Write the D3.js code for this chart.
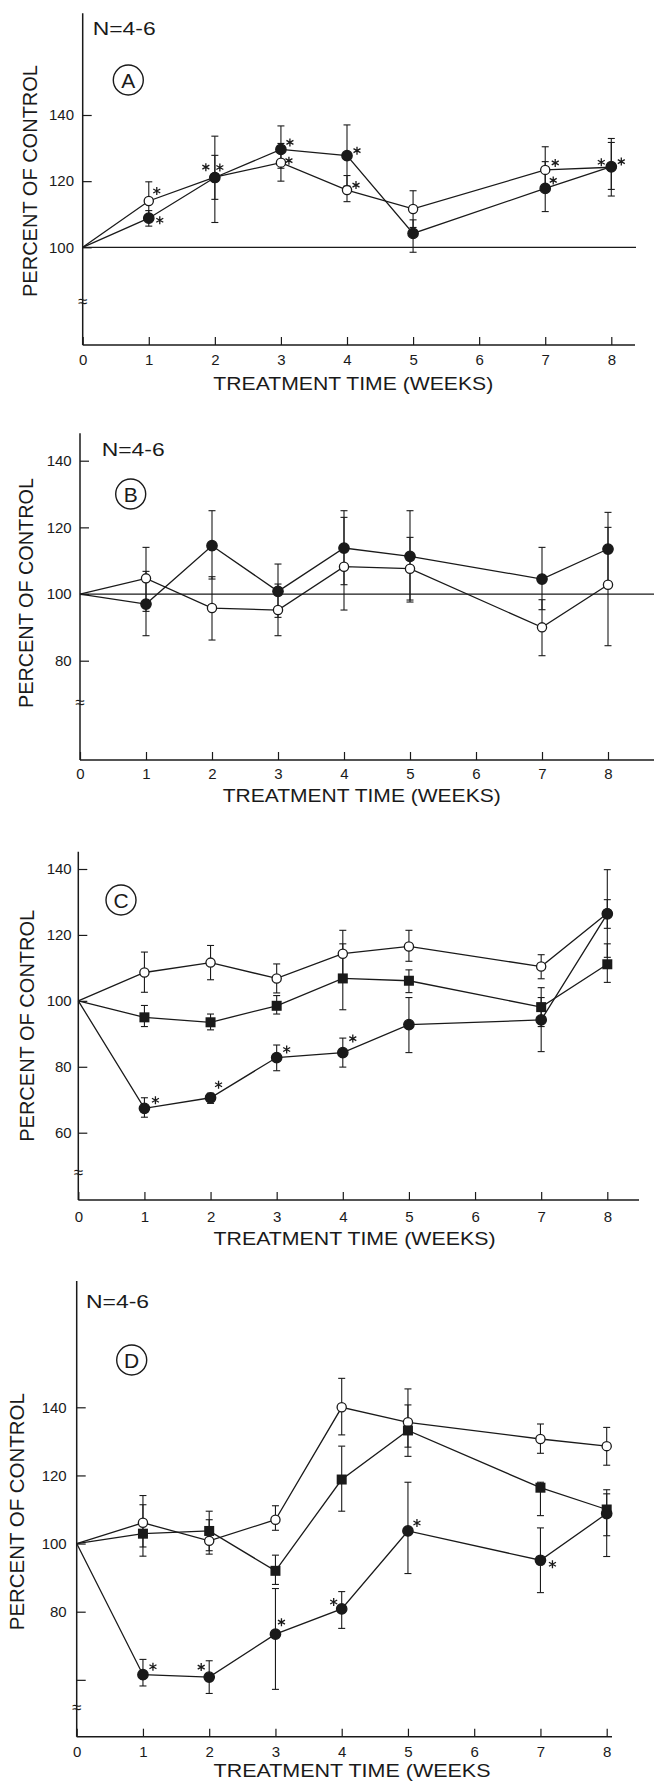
<!DOCTYPE html>
<html>
<head>
<meta charset="utf-8">
<script src="https://cdn.jsdelivr.net/npm/d3@7"></script>
<style>
  body { margin: 0; background: #fff; }
  svg { display: block; }
</style>
</head>
<body>
<div id="chart"></div>
<script>
// weeks on the x axis (6 has no data)
var weeks = [0, 1, 2, 3, 4, 5, 7, 8];
var weekTicks = [0, 1, 2, 3, 4, 5, 6, 7, 8];

// panel A
var aOpen     = [100, 114.0, 121.2, 125.6, 117.3, 111.6, 123.4, 124.2];
var aOpenHi   = [null, 119.8, 127.8, 131.4, 121.7, 117.1, 130.4, 131.7];
var aOpenLo   = [null, 108.2, 114.5, 120.0, 113.8, 106.0, 117.0, 117.5];
var aFilled   = [100, 108.8, 121.1, 129.6, 127.7, 104.2, 117.8, 124.4];
var aFilledHi = [null, 111.1, 133.6, 136.7, 137.0, 108.3, 125.9, 132.9];
var aFilledLo = [null, 106.4, 107.5, 123.9, 118.5, 98.5, 110.8, 115.5];
var aOpenSig   = [1, 2, 3, 4, 7, 8];
var aFilledSig = [1, 2, 3, 4, 7, 8];

// panel B
var bOpen     = [100, 104.7, 95.8, 95.2, 108.2, 107.6, 90.0, 102.8];
var bOpenHi   = [null, 114.0, 105.2, 103.0, 123.0, 117.0, 98.3, 120.0];
var bOpenLo   = [null, 94.8, 86.2, 87.5, 95.2, 98.2, 81.5, 84.5];
var bFilled   = [100, 97.0, 114.5, 100.8, 113.8, 111.3, 104.5, 113.5];
var bFilledHi = [null, 106.8, 125.0, 109.0, 125.0, 125.0, 114.0, 124.5];
var bFilledLo = [null, 87.5, 104.5, 93.0, 102.8, 97.6, 95.3, 102.5];

// panel C
var cOpen     = [100, 108.6, 111.6, 106.8, 114.3, 116.5, 110.4, 126.6];
var cOpenHi   = [null, 114.8, 116.8, 111.2, 121.4, 121.4, 114.0, 139.8];
var cOpenLo   = [null, 102.6, 106.4, 102.4, 107.3, 112.0, 106.7, 113.2];
var cSquare   = [100, 95.0, 93.5, 98.5, 106.8, 106.1, 98.1, 111.1];
var cSquareHi = [null, 98.6, 96.0, 101.6, 117.3, 109.4, 104.0, 117.3];
var cSquareLo = [null, 92.2, 91.2, 96.0, 97.3, 102.5, 92.2, 105.6];
var cFilled   = [100, 67.4, 70.6, 82.8, 84.3, 92.8, 94.2, 126.4];
var cFilledHi = [null, 70.6, 72.0, 86.6, 88.7, 101.0, 101.0, 130.7];
var cFilledLo = [null, 64.7, 68.9, 78.8, 79.9, 84.3, 84.6, 122.0];
var cFilledSig = [1, 2, 3, 4];

// panel D
var dOpen     = [100, 106.1, 100.8, 107.0, 140.0, 135.6, 130.7, 128.6];
var dOpenHi   = [null, 114.1, 107.0, 111.1, 148.5, 145.4, 135.1, 134.1];
var dOpenLo   = [null, 99.0, 96.9, 103.9, 131.9, 128.3, 126.5, 123.0];
var dSquare   = [100, 102.9, 103.7, 92.0, 118.8, 133.2, 116.4, 110.0];
var dSquareHi = [null, 111.4, 109.5, 96.6, 128.6, 140.7, 118.0, 114.6];
var dSquareLo = [null, 96.3, 97.9, 88.0, 109.5, 125.6, 108.2, 102.3];
var dFilled   = [100, 61.5, 60.8, 73.4, 80.8, 103.7, 95.1, 108.8];
var dFilledHi = [null, 66.0, 65.6, 86.8, 85.9, 118.0, 104.6, 115.8];
var dFilledLo = [null, 58.2, 56.0, 57.2, 75.1, 91.2, 85.6, 96.2];
var dFilledSig = [1, 2, 3, 4, 5, 7];

// y tick labels
var yTicksA = [100, 120, 140];
var yTicksB = [80, 100, 120, 140];
var yTicksC = [60, 80, 100, 120, 140];
var yTicksD = [60, 80, 100, 120, 140];
var yLabelsD = [80, 100, 120, 140];

var FONT = "'Liberation Sans', Arial, sans-serif";
var INK = "#1a1a1a";

// where each asterisk sits next to its point (px)
var starPos = {
  "A-open-1": [8, -10], "A-open-2": [-9, -10], "A-open-3": [8, -2], "A-open-4": [9, -5],
  "A-open-7": [10, -7], "A-open-8": [-10, -5],
  "A-filled-1": [11, 2], "A-filled-2": [5, -10], "A-filled-3": [9, -7], "A-filled-4": [10, -5],
  "A-filled-7": [8, -8], "A-filled-8": [10, -5],
  "C-filled-1": [11, -8], "C-filled-2": [8, -13], "C-filled-3": [10, -8], "C-filled-4": [10, -14],
  "D-filled-1": [10, -8], "D-filled-2": [-8, -10], "D-filled-3": [6, -12], "D-filled-4": [-8, -7],
  "D-filled-5": [9, -8], "D-filled-7": [12, 4]
};

var panels = [
  { id: "A", xr: [82.7, 611.3], yd: [100, 140], yr: [247.3, 115], top: 13.3, axisY: 345, right: 635,
    ref: 636, brk: 301.7, yTicks: yTicksA, yLabels: yTicksA, yPad: 8.7, xPad: 9.7,
    xTitle: "TREATMENT TIME (WEEKS)", xTitleX: 353.3, xTitleY: 383.3, xTitleLen: 280,
    yTitleX: 30, yTitleY: 181, yTitleLen: 232, nX: 92.7, nY: 28.3, cX: 128.3, cY: 80,
    series: [
      { name: "open", v: aOpen, hi: aOpenHi, lo: aOpenLo, sig: aOpenSig },
      { name: "filled", v: aFilled, hi: aFilledHi, lo: aFilledLo, sig: aFilledSig }
    ] },
  { id: "B", xr: [80, 608], yd: [80, 140], yr: [660.7, 460.7], top: 433.3, axisY: 760, right: 654,
    ref: 654, brk: 703.3, yTicks: yTicksB, yLabels: yTicksB, yPad: 8.3, xPad: 8.7,
    xTitle: "TREATMENT TIME (WEEKS)", xTitleX: 361.7, xTitleY: 795, xTitleLen: 278,
    yTitleX: 26, yTitleY: 593, yTitleLen: 230, nX: 101.7, nY: 449.3, cX: 130.7, cY: 494,
    series: [
      { name: "open", v: bOpen, hi: bOpenHi, lo: bOpenLo, sig: [] },
      { name: "filled", v: bFilled, hi: bFilledHi, lo: bFilledLo, sig: [] }
    ] },
  { id: "C", xr: [78.3, 607.3], yd: [60, 140], yr: [1132.7, 869], top: 851.7, axisY: 1200, right: 639,
    ref: null, brk: 1172.7, yTicks: yTicksC, yLabels: yTicksC, yPad: 6.6, xPad: 11.4,
    xTitle: "TREATMENT TIME (WEEKS)", xTitleX: 354.5, xTitleY: 1238.3, xTitleLen: 282,
    yTitleX: 26.7, yTitleY: 1025.8, yTitleLen: 232, nX: null, nY: null, cX: 121, cY: 900,
    series: [
      { name: "open", v: cOpen, hi: cOpenHi, lo: cOpenLo, sig: [] },
      { name: "square", v: cSquare, hi: cSquareHi, lo: cSquareLo, sig: [] },
      { name: "filled", v: cFilled, hi: cFilledHi, lo: cFilledLo, sig: cFilledSig }
    ] },
  { id: "D", xr: [76.7, 606.7], yd: [80, 140], yr: [1611.7, 1407.3], top: 1281, axisY: 1736.7, right: 612,
    ref: null, brk: 1708.3, yTicks: yTicksD, yLabels: yLabelsD, yPad: 10, xPad: 9.7,
    xTitle: "TREATMENT TIME (WEEKS", xTitleX: 352, xTitleY: 1770, xTitleLen: 277,
    yTitleX: 16.7, yTitleY: 1511.7, yTitleLen: 237, nX: 86, nY: 1301.7, cX: 131.7, cY: 1360,
    series: [
      { name: "open", v: dOpen, hi: dOpenHi, lo: dOpenLo, sig: [] },
      { name: "square", v: dSquare, hi: dSquareHi, lo: dSquareLo, sig: [] },
      { name: "filled", v: dFilled, hi: dFilledHi, lo: dFilledLo, sig: dFilledSig }
    ] }
];

var svg = d3.select("#chart").append("svg")
  .attr("width", 654)
  .attr("height", 1781)
  .attr("font-family", FONT);

svg.append("rect").attr("width", 654).attr("height", 1781).attr("fill", "#fff");

panels.forEach(drawPanel);

function drawPanel(p) {
  var g = svg.append("g").attr("class", "panel-" + p.id);
  var x = d3.scaleLinear().domain([0, 8]).range(p.xr);
  var y = d3.scaleLinear().domain(p.yd).range(p.yr);
  var x0 = x(0);

  // frame lines
  g.append("line").attr("x1", x0).attr("x2", x0).attr("y1", p.top).attr("y2", p.axisY)
    .attr("stroke", INK).attr("stroke-width", 1.5);
  g.append("line").attr("x1", x0).attr("x2", p.right).attr("y1", p.axisY).attr("y2", p.axisY)
    .attr("stroke", INK).attr("stroke-width", 1.5);

  // 100 % reference line
  if (p.ref) {
    g.append("line").attr("x1", x0).attr("x2", p.ref).attr("y1", y(100)).attr("y2", y(100))
      .attr("stroke", INK).attr("stroke-width", 1.3);
  }

  // y ticks (inward)
  var ya = g.append("g")
    .attr("transform", "translate(" + x0 + ",0)")
    .call(d3.axisLeft(y).tickValues(p.yTicks).tickSize(-9).tickPadding(p.yPad)
      .tickFormat(function (d) { return p.yLabels.indexOf(d) >= 0 ? d : ""; }));
  ya.select(".domain").remove();
  ya.attr("font-size", 15).attr("font-family", FONT).attr("color", INK);
  ya.selectAll("line").attr("stroke-width", 1.2);

  // x ticks (inward)
  var xa = g.append("g")
    .attr("transform", "translate(0," + p.axisY + ")")
    .call(d3.axisBottom(x).tickValues(weekTicks).tickSize(-8).tickPadding(p.xPad));
  xa.select(".domain").remove();
  xa.attr("font-size", 15).attr("font-family", FONT).attr("color", INK);
  xa.selectAll("line").attr("stroke-width", 1.2);

  // axis break
  g.append("text").attr("x", x0).attr("y", p.brk + 5)
    .attr("text-anchor", "middle").attr("font-size", 17).attr("fill", INK).text("≈");

  // titles
  g.append("text")
    .attr("x", p.xTitleX).attr("y", p.xTitleY).attr("dy", "0.36em")
    .attr("text-anchor", "middle").attr("font-size", 19).attr("fill", INK)
    .attr("textLength", p.xTitleLen).attr("lengthAdjust", "spacingAndGlyphs")
    .text(p.xTitle);

  g.append("text")
    .attr("transform", "translate(" + p.yTitleX + "," + p.yTitleY + ") rotate(-90)")
    .attr("dy", "0.36em")
    .attr("text-anchor", "middle").attr("font-size", 20).attr("fill", INK)
    .attr("textLength", p.yTitleLen).attr("lengthAdjust", "spacingAndGlyphs")
    .text("PERCENT OF CONTROL");

  if (p.nX !== null) {
    g.append("text").attr("x", p.nX).attr("y", p.nY).attr("dy", "0.36em")
      .attr("font-size", 18.5).attr("fill", INK)
      .attr("textLength", 63).attr("lengthAdjust", "spacingAndGlyphs")
      .text("N=4-6");
  }

  // circled panel letter
  g.append("circle").attr("cx", p.cX).attr("cy", p.cY).attr("r", 15)
    .attr("fill", "none").attr("stroke", INK).attr("stroke-width", 1.4);
  g.append("text").attr("x", p.cX).attr("y", p.cY).attr("dy", "0.36em")
    .attr("text-anchor", "middle").attr("font-size", 21).attr("fill", INK)
    .text(p.id);

  var line = d3.line()
    .x(function (d) { return x(d.w); })
    .y(function (d) { return y(d.v); });

  function rows(s) {
    return weeks.map(function (w, i) { return { w: w, v: s.v[i], hi: s.hi[i], lo: s.lo[i] }; });
  }

  // connecting lines
  p.series.forEach(function (s) {
    g.append("path").datum(rows(s))
      .attr("d", line).attr("fill", "none")
      .attr("stroke", INK).attr("stroke-width", 1.3);
  });

  // error bars
  p.series.forEach(function (s) {
    var eb = g.append("g").selectAll("g")
      .data(rows(s).filter(function (d) { return d.hi !== null; }))
      .enter().append("g")
      .attr("stroke", INK).attr("stroke-width", 1.1);
    eb.append("line")
      .attr("x1", function (d) { return x(d.w); }).attr("x2", function (d) { return x(d.w); })
      .attr("y1", function (d) { return y(d.hi); }).attr("y2", function (d) { return y(d.lo); });
    eb.append("line")
      .attr("x1", function (d) { return x(d.w) - 3.5; }).attr("x2", function (d) { return x(d.w) + 3.5; })
      .attr("y1", function (d) { return y(d.hi); }).attr("y2", function (d) { return y(d.hi); });
    eb.append("line")
      .attr("x1", function (d) { return x(d.w) - 3.5; }).attr("x2", function (d) { return x(d.w) + 3.5; })
      .attr("y1", function (d) { return y(d.lo); }).attr("y2", function (d) { return y(d.lo); });
  });

  // markers (skip week 0, where all lines start from the axis)
  p.series.forEach(function (s) {
    var pts = rows(s).filter(function (d) { return d.w > 0; });
    if (s.name === "square") {
      g.append("g").selectAll("rect").data(pts).enter().append("rect")
        .attr("x", function (d) { return x(d.w) - 5; })
        .attr("y", function (d) { return y(d.v) - 5; })
        .attr("width", 10).attr("height", 10)
        .attr("fill", INK);
    } else {
      g.append("g").selectAll("circle").data(pts).enter().append("circle")
        .attr("cx", function (d) { return x(d.w); })
        .attr("cy", function (d) { return y(d.v); })
        .attr("r", s.name === "open" ? 4.6 : 5.2)
        .attr("fill", s.name === "open" ? "#fff" : INK)
        .attr("stroke", INK).attr("stroke-width", 1.3);
    }
  });

  // significance asterisks
  p.series.forEach(function (s) {
    s.sig.forEach(function (w) {
      var i = weeks.indexOf(w);
      var off = starPos[p.id + "-" + s.name + "-" + w] || [9, -8];
      g.append("path")
        .attr("transform", "translate(" + (x(w) + off[0]) + "," + (y(s.v[i]) + off[1]) + ")")
        .attr("d", "M0,-4V4M-3.5,-2L3.5,2M-3.5,2L3.5,-2")
        .attr("stroke", INK).attr("stroke-width", 1.3).attr("fill", "none");
    });
  });
}
</script>
</body>
</html>
